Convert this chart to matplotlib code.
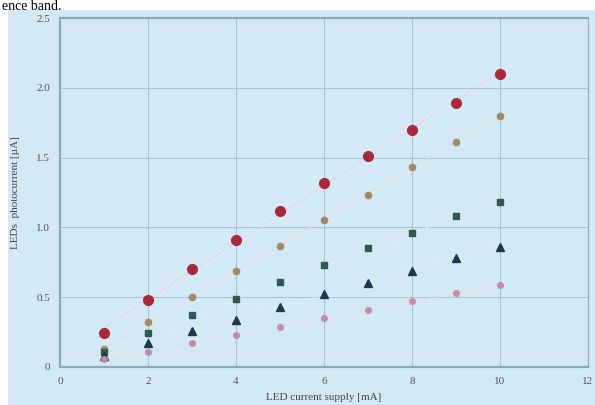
import matplotlib
matplotlib.use("Agg")
import matplotlib.pyplot as plt
import numpy as np
from matplotlib.patches import Rectangle

x_current = [1, 2, 3, 4, 5, 6, 7, 8, 9, 10]
led_red = [0.24, 0.48, 0.70, 0.91, 1.12, 1.32, 1.51, 1.70, 1.89, 2.10]
led_orange = [0.13, 0.32, 0.50, 0.69, 0.87, 1.05, 1.23, 1.43, 1.61, 1.80]
led_green = [0.11, 0.24, 0.37, 0.49, 0.61, 0.73, 0.85, 0.96, 1.08, 1.18]
led_blue = [0.08, 0.17, 0.26, 0.34, 0.43, 0.52, 0.60, 0.69, 0.78, 0.86]
led_pink = [0.06, 0.11, 0.17, 0.23, 0.29, 0.35, 0.41, 0.47, 0.53, 0.59]

x_ticks = [0, 2, 4, 6, 8, 10, 12]
y_ticks = [0, 0.5, 1.0, 1.5, 2.0, 2.5]
y_ticklabels = ["0", "0.5", "1.0", "1.5", "2.0", "2.5"]

serif = ["Liberation Serif", "DejaVu Serif"]
bg = "#d3eaf6"

fig = plt.figure(figsize=(5.95, 4.05), dpi=100, facecolor="white")
fig.patches.append(Rectangle((8/595, 0), 1 - 8/595, 1 - 10/405, transform=fig.transFigure,
                             facecolor=bg, edgecolor="none", zorder=-10))
fig.text(2/595, 1.0, "ence band.", fontsize=10, family=serif, va="top", ha="left", color="black")

ax = fig.add_axes([60/595, 38/405, 528/595, 349/405])
ax.set_facecolor(bg)

series = [
    (led_red, "o", "#a8283c", 7, "#f4c8d4"),
    (led_orange, "o", "#a08a68", 4.5, "#eed8d8"),
    (led_green, "s", "#2f5a4e", 5, "#e8eef0"),
    (led_blue, "^", "#1f3552", 5.5, "#e8eef0"),
    (led_pink, "o", "#c68aa4", 4, "#f0d0e0"),
]
xa = np.array(x_current, dtype=float)
for vals, mk, col, ms, lc in series:
    p = np.polyfit(xa, vals, 1)
    xx = np.array([xa[0], xa[-1]])
    ax.plot(xx, np.polyval(p, xx), ls=":", color=lc, lw=1.2, zorder=2)
    ax.plot(xa, vals, ls="none", marker=mk, color=col, ms=ms, zorder=3,
            markeredgecolor=col)

ax.set_xlim(0, 12)
ax.set_ylim(0, 2.5)
ax.set_xticks(x_ticks)
ax.set_xticklabels([str(v) for v in x_ticks])
ax.set_yticks(y_ticks)
ax.set_yticklabels(y_ticklabels)
ax.grid(True, color="#a9c4d2", lw=0.8)
ax.set_axisbelow(True)
for s in ax.spines.values():
    s.set_color("#8ea9b8")
    s.set_linewidth(0.8)
ax.spines["left"].set_linewidth(1.6)
ax.spines["bottom"].set_linewidth(1.6)
ax.spines["top"].set_linewidth(1.6)
ax.tick_params(length=0, labelsize=8, colors="#555555", pad=7)
for lab in ax.get_xticklabels() + ax.get_yticklabels():
    lab.set_family(serif)
ax.set_xlabel("LED current supply [mA]", fontsize=8, family=serif, color="#444444", labelpad=5)
ax.set_ylabel("LEDs  photocurrent [µA]", fontsize=8, family=serif, color="#444444", labelpad=12)

fig.savefig("out.png", dpi=100, facecolor="white")
